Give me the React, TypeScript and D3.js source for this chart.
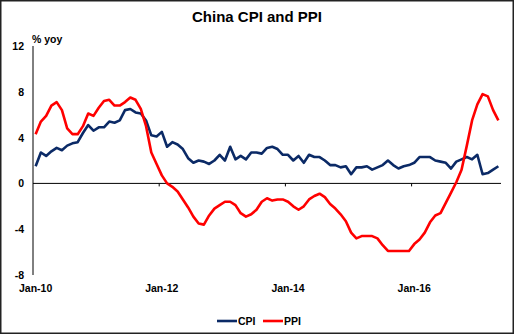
import React from "react";
import * as d3 from "d3";

const cpi: number[] = [
  1.5, 2.7, 2.4, 2.8, 3.1, 2.9, 3.3, 3.5, 3.6, 4.4, 5.1, 4.6,
  4.9, 4.9, 5.4, 5.3, 5.5, 6.4, 6.5, 6.2, 6.1, 5.5, 4.2, 4.1,
  4.5, 3.2, 3.6, 3.4, 3.0, 2.2, 1.8, 2.0, 1.9, 1.7, 2.0, 2.5,
  2.0, 3.2, 2.1, 2.4, 2.1, 2.7, 2.7, 2.6, 3.1, 3.2, 3.0, 2.5,
  2.5, 2.0, 2.4, 1.8, 2.5, 2.3, 2.3, 2.0, 1.6, 1.6, 1.4, 1.5,
  0.8, 1.4, 1.4, 1.5, 1.2, 1.4, 1.6, 2.0, 1.6, 1.3, 1.5, 1.6,
  1.8, 2.3, 2.3, 2.3, 2.0, 1.9, 1.8, 1.3, 1.9, 2.1, 2.3, 2.1,
  2.5, 0.8, 0.9, 1.2, 1.5,
];

const ppi: number[] = [
  4.3, 5.4, 5.9, 6.8, 7.1, 6.4, 4.8, 4.3, 4.3, 5.0, 6.1, 5.9,
  6.6, 7.2, 7.3, 6.8, 6.8, 7.1, 7.5, 7.3, 6.5, 5.0, 2.7, 1.7,
  0.7, 0.0, -0.3, -0.7, -1.4, -2.1, -2.9, -3.5, -3.6, -2.8, -2.2, -1.9,
  -1.6, -1.6, -1.9, -2.6, -2.9, -2.7, -2.3, -1.6, -1.3, -1.5, -1.4, -1.4,
  -1.6, -2.0, -2.3, -2.0, -1.4, -1.1, -0.9, -1.2, -1.8, -2.2, -2.7, -3.3,
  -4.3, -4.8, -4.6, -4.6, -4.6, -4.8, -5.4, -5.9, -5.9, -5.9, -5.9, -5.9,
  -5.3, -4.9, -4.3, -3.4, -2.8, -2.6, -1.7, -0.8, 0.1, 1.2, 3.3, 5.5,
  6.9, 7.8, 7.6, 6.4, 5.5,
];

const xTickIndex: number[] = [0, 24, 48, 72];
const xTickLabels: string[] = ["Jan-10", "Jan-12", "Jan-14", "Jan-16"];
const yTicks: number[] = [12, 8, 4, 0, -4, -8];
const seriesNames: string[] = ["CPI", "PPI"];
const seriesColors: string[] = ["#0b2a66", "#ff0000"];

const W = 515;
const H = 335;
const FONT = "'Liberation Sans', Arial, sans-serif";

export default function App() {
  const nCats = 89;
  const x0 = 33;
  const x1 = 501;
  const xs = d3.scaleLinear().domain([0, nCats]).range([x0, x1]);
  const xc = (i: number) => xs(i + 0.5);
  const y = d3.scaleLinear().domain([-8, 12]).range([275, 46]);

  const line = d3
    .line<number>()
    .x((_, i) => xc(i))
    .y((d) => y(d));

  const series = [cpi, ppi];

  return (
    <svg
      width={W}
      height={H}
      style={{ position: "absolute", left: 0, top: 0, background: "#fff" }}
      fontFamily={FONT}
    >
      <rect x={0} y={0} width={W} height={H} fill="#fff" />
      <rect x={0.75} y={0.75} width={512.5} height={332.5} fill="none" stroke="#222" strokeWidth={1.5} />
      <text x={257} y={22} textAnchor="middle" fontSize={15} fontWeight="bold" fill="#000">
        China CPI and PPI
      </text>
      <text x={32} y={43} fontSize={10.5} fontWeight="bold" fill="#000">
        % yoy
      </text>
      {/* y axis */}
      <line x1={x0} x2={x0} y1={y(12)} y2={y(-8)} stroke="#000" strokeWidth={1} />
      {yTicks.map((t) => (
        <text key={t} x={24} y={y(t) + 4} textAnchor="end" fontSize={10.5} fontWeight="bold" fill="#000">
          {t}
        </text>
      ))}
      {/* zero line */}
      <line x1={x0} x2={x1} y1={y(0)} y2={y(0)} stroke="#000" strokeWidth={1} />
      {xTickIndex.map((t, k) => (
        <g key={t}>
          {k > 0 && (
            <line x1={xs(t)} x2={xs(t)} y1={y(0)} y2={y(0) + 3} stroke="#000" strokeWidth={1} />
          )}
          <text x={xc(t)} y={292} textAnchor="middle" fontSize={10.5} fontWeight="bold" fill="#000">
            {xTickLabels[k]}
          </text>
        </g>
      ))}
      {series.map((s, k) => (
        <path
          key={k}
          d={line(s) || ""}
          fill="none"
          stroke={seriesColors[k]}
          strokeWidth={2.6}
          strokeLinejoin="round"
        />
      ))}
      {/* legend */}
      {seriesNames.map((n, k) => {
        const lx = 217 + k * 46;
        return (
          <g key={n}>
            <line x1={lx} x2={lx + 20} y1={321} y2={321} stroke={seriesColors[k]} strokeWidth={2.6} />
            <text x={lx + 21} y={325} fontSize={10.5} fontWeight="bold" fill="#000">
              {n}
            </text>
          </g>
        );
      })}
    </svg>
  );
}
